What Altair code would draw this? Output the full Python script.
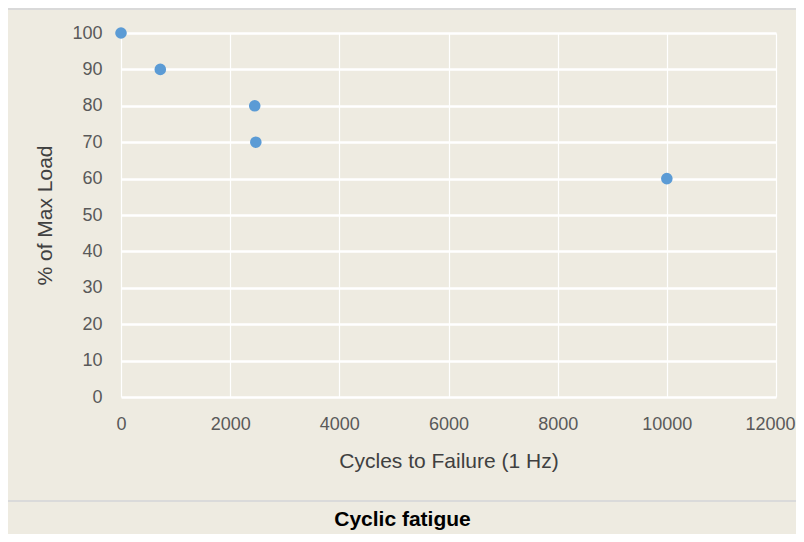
import altair as alt
import pandas as pd

cycles = [0, 720, 2450, 2470, 10000]
load_pct = [100, 90, 80, 70, 60]
x_ticks = [0, 2000, 4000, 6000, 8000, 10000, 12000]
y_ticks = [0, 10, 20, 30, 40, 50, 60, 70, 80, 90, 100]

df = pd.DataFrame({"cycles": cycles, "load": load_pct})
one = pd.DataFrame({"k": [0]})

FONT = "Liberation Sans"
BG = "#EEEBE1"

points = alt.Chart(df).mark_circle(size=135, color="#5B9BD5", opacity=1).encode(
    x=alt.X(
        "cycles:Q",
        scale=alt.Scale(domain=[0, 12000], nice=False, zero=True),
        axis=alt.Axis(
            values=x_ticks,
            format="d",
            title="Cycles to Failure (1 Hz)",
            grid=True,
            gridColor="#FFFFFF",
            gridWidth=1.2,
            domain=False,
            ticks=False,
            labelPadding=18,
            labelFontSize=18,
            labelColor="#595959",
            labelFont=FONT,
            labelOffset=alt.expr("datum.value == 12000 ? -6 : 0"),
            titleFontSize=21,
            titleFont=FONT,
            titleFontWeight="normal",
            titleColor="#404040",
            titlePadding=17,
            labelFlush=False,
        ),
    ),
    y=alt.Y(
        "load:Q",
        scale=alt.Scale(domain=[0, 100], nice=False),
        axis=alt.Axis(
            values=y_ticks,
            title="% of Max Load",
            grid=True,
            gridColor="#FFFFFF",
            gridWidth=2.5,
            domain=False,
            ticks=False,
            labelPadding=19,
            labelFontSize=18,
            labelColor="#595959",
            labelFont=FONT,
            titleFontSize=21,
            titleFont=FONT,
            titleFontWeight="normal",
            titleColor="#404040",
            titlePadding=16,
        ),
    ),
)

top_rule = alt.Chart(one).mark_rule(color="#D9D9D9", strokeWidth=2).encode(
    x=alt.value(-113), x2=alt.value(675), y=alt.value(-24)
)
bottom_rule = alt.Chart(one).mark_rule(color="#DADADA", strokeWidth=2).encode(
    x=alt.value(-113), x2=alt.value(675), y=alt.value(468)
)

chart = (
    alt.layer(top_rule, bottom_rule, points)
    .properties(
        width=655,
        height=364,
        padding={"left": 113, "top": 25, "right": 20, "bottom": 137},
        autosize=alt.AutoSizeParams(type="none"),
        background=BG,
        title=alt.TitleParams(
            "Cyclic fatigue",
            orient="bottom",
            anchor="middle",
            frame="group",
            dx=-46,
            offset=7,
            fontSize=21,
            font=FONT,
            fontWeight="bold",
            color="#000000",
        ),
    )
    .configure_view(stroke=None, fill=BG)
)

chart.save("out.html", embed_options={"renderer": "svg", "actions": False})
